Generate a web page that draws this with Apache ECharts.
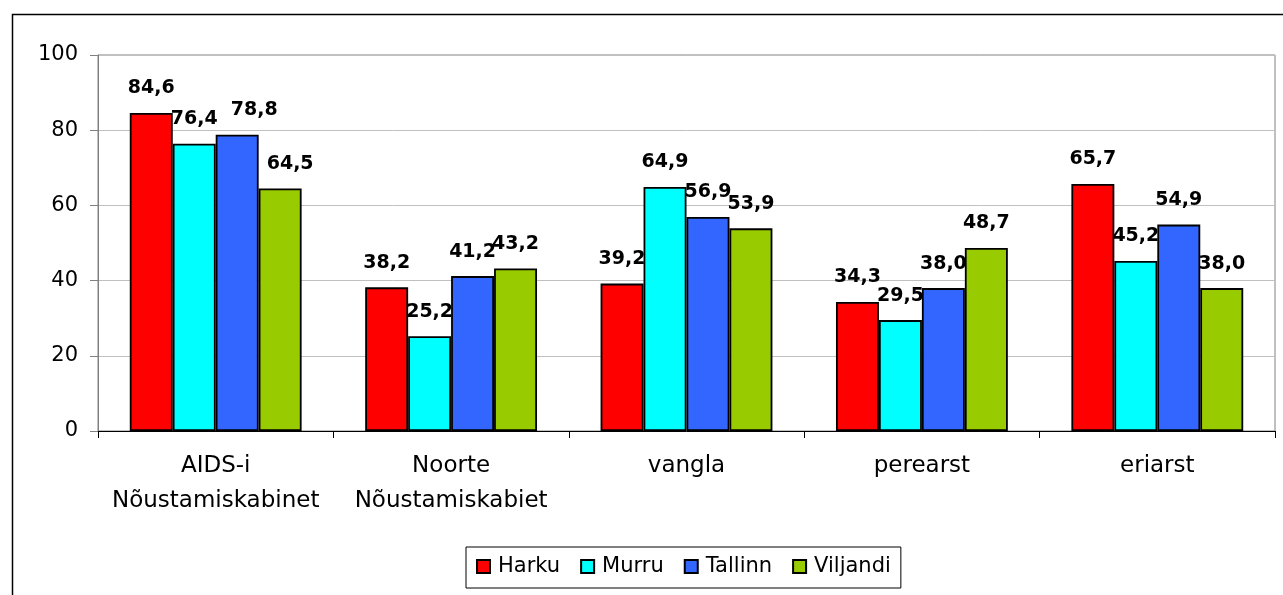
<!DOCTYPE html>
<html lang="et">

<head>
    <meta charset="UTF-8">
    <title>echarts demo</title>
    <style>
        html, body { margin: 0; padding: 0; background: #fff; }
        #chart { width: 1283px; height: 595px; }
    </style>
</head>

<body>
    <div id="chart"></div>
</body>

<script src="https://cdn.jsdelivr.net/npm/echarts@6.0.0/dist/echarts.min.js"></script>
<script>
    // categories and values
    const categories = ['AIDS-i\nNõustamiskabinet', 'Noorte\nNõustamiskabiet', 'vangla', 'perearst', 'eriarst'];
    const harku = [84.6, 38.2, 39.2, 34.3, 65.7];
    const murru = [76.4, 25.2, 64.9, 29.5, 45.2];
    const tallinn = [78.8, 41.2, 56.9, 38.0, 54.9];
    const viljandi = [64.5, 43.2, 53.9, 48.7, 38.0];
    const yTicks = [0, 20, 40, 60, 80, 100];

    const font = 'DejaVu Sans';

    // Excel moved a couple of labels sideways in the first group
    const labelNudge = { 'Tallinn-0': 17, 'Viljandi-0': 10 };

    function makeSeries(name, values, color) {
        return {
            name: name,
            type: 'bar',
            barGap: '0%',
            barCategoryGap: '27%',
            itemStyle: { color: color, borderColor: '#000', borderWidth: 1.8 },
            label: {
                show: true, position: 'top', distance: 15,
                fontFamily: font, fontWeight: 'bold', fontSize: 19, color: '#000',
                formatter: p => p.value.toFixed(1).replace('.', ',')
            },
            data: values.map((v, i) => {
                let dx = labelNudge[name + '-' + i];
                return dx ? { value: v, label: { offset: [dx, 0] } } : v;
            })
        };
    }

    function getOption() {
        return {
            animation: false,
            grid: { left: 98, right: 8, top: 55, bottom: 164, show: true, borderColor: '#808080', borderWidth: 1 },
            legend: {
                left: 466, top: 547,
                icon: 'rect',
                itemWidth: 13, itemHeight: 13, itemGap: 20,
                padding: [9, 10, 11, 10],
                borderColor: '#000', borderWidth: 1,
                textStyle: { fontFamily: font, fontSize: 21, color: '#000', padding: [0, 0, 0, 3] },
                data: ['Harku', 'Murru', 'Tallinn', 'Viljandi']
            },
            xAxis: {
                type: 'category',
                data: categories,
                axisLine: { lineStyle: { color: '#000', width: 1 } },
                axisTick: { show: true, length: 7, lineStyle: { color: '#000' } },
                axisLabel: { interval: 0, margin: 18, fontFamily: font, fontSize: 23, color: '#000', lineHeight: 35 }
            },
            yAxis: {
                type: 'value',
                min: yTicks[0], max: yTicks[yTicks.length - 1], interval: yTicks[1] - yTicks[0],
                axisLine: { show: true, lineStyle: { color: '#808080' } },
                axisTick: { show: true, length: 8, lineStyle: { color: '#808080' } },
                axisLabel: { margin: 20, fontFamily: font, fontSize: 21, color: '#000' },
                splitLine: { lineStyle: { color: '#c0c0c0' } }
            },
            graphic: [{
                type: 'rect', left: 10, top: 12, z: -1,
                shape: { width: 1300, height: 620 },
                style: { fill: 'none', stroke: '#000', lineWidth: 1.5 }
            }],
            series: [
                makeSeries('Harku', harku, '#ff0000'),
                makeSeries('Murru', murru, '#00ffff'),
                makeSeries('Tallinn', tallinn, '#3366ff'),
                makeSeries('Viljandi', viljandi, '#99cc00')
            ]
        };
    }

    let myChart = echarts.init(document.getElementById('chart'));
    myChart.setOption(getOption());
</script>

</html>
